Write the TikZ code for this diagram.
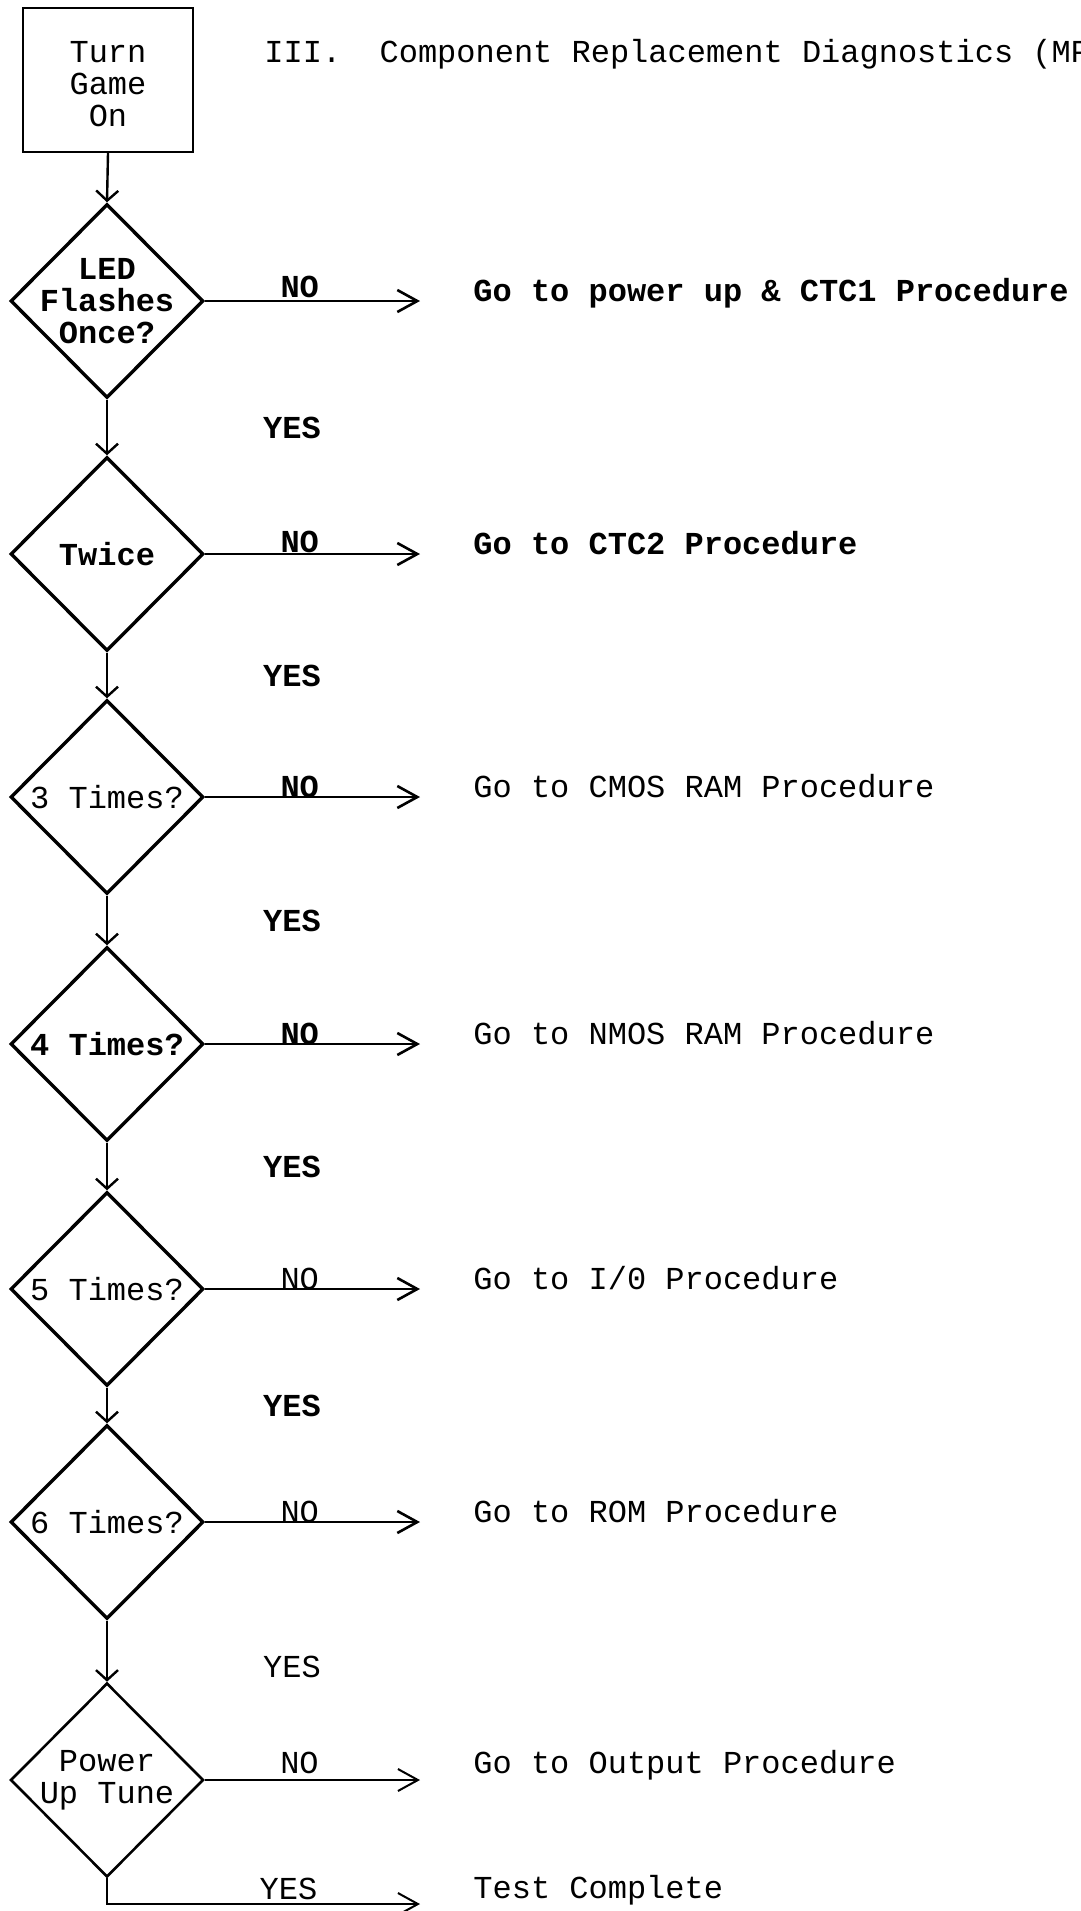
\documentclass[tikz,border=0pt]{standalone}
\usepackage{fontspec}
\usetikzlibrary{shapes.geometric, arrows.meta, positioning, calc}
\newfontfamily\typer{Liberation Mono}

\begin{document}
\begin{tikzpicture}[
  x=0.5pt, y=-0.5pt,
  every node/.style={font=\typer\fontsize{16}{16}\selectfont},
  heavy/.style={font=\typer\bfseries\fontsize{16}{16}\selectfont},
  startbox/.style={rectangle, draw, line width=1pt, minimum width=85pt, minimum height=72pt,
                   align=center, inner sep=0pt},
  test/.style={diamond, draw, line width=1.7pt, minimum width=96.5pt, minimum height=97pt,
               inner sep=-10pt, align=center},
  flow/.style={-{Straight Barb[length=5pt, width=11pt]}, line width=1.2pt},
  noflow/.style={-{Straight Barb[length=10pt, width=11pt]}, line width=1.3pt},
  answer/.style={anchor=base, inner sep=0pt, pos=.44},
  yes/.style={anchor=center, inner sep=0pt, xshift=92.5pt},
  target/.style={anchor=base west, inner sep=0pt},
]
  \useasboundingbox (0,0) rectangle (1081,1911);

  \node[startbox] (start) at (108,80) {\rule{0pt}{15pt}Turn\\Game\\On};
  \node[target] (title) at (264,62) {III.\ \ Component Replacement Diagnostics (MP};

  % flash count tests
  \node[test, heavy] (once) at (107,301) {LED\\Flashes\\Once?};
  \node[test, heavy] (twice) at (107,554) {Twice};
  \node[test] (three) at (107,797) {3 Times?};
  \node[test, heavy] (four) at (107,1044) {4 Times?};
  \node[test] (five) at (107,1289) {5 Times?};
  \node[test] (six) at (107,1522) {6 Times?};
  \node[test, line width=1.3pt] (tune) at (107,1780) {Power\\Up Tune};

  % procedures
  \node[target, heavy] (ctcone) at (473,301) {Go to power up \& CTC1 Procedure};
  \node[target, heavy] (ctctwo) at (473,554) {Go to CTC2 Procedure};
  \node[target] (cmos) at (473,797) {Go to CMOS RAM Procedure};
  \node[target] (nmos) at (473,1044) {Go to NMOS RAM Procedure};
  \node[target] (io) at (473,1289) {Go to I/0 Procedure};
  \node[target] (rom) at (473,1522) {Go to ROM Procedure};
  \node[target] (output) at (473,1773) {Go to Output Procedure};
  \node[target] (done) at (473,1898) {Test Complete};

  \coordinate (noone) at (420,301);
  \coordinate (notwo) at (420,554);
  \coordinate (nothree) at (420,797);
  \coordinate (nofour) at (420,1044);
  \coordinate (nofive) at (420,1289);
  \coordinate (nosix) at (420,1522);
  \coordinate (notune) at (420,1780);
  \coordinate (yestune) at (420,1904);

  \draw[flow] (start.south) -- (once.north);
  \draw[flow] (once.south) -- node[yes, heavy]{YES} (twice.north);
  \draw[flow] (twice.south) -- node[yes, heavy]{YES} (three.north);
  \draw[flow] (three.south) -- node[yes, heavy]{YES} (four.north);
  \draw[flow] (four.south) -- node[yes, heavy]{YES} (five.north);
  \draw[flow] (five.south) -- node[yes, heavy]{YES} (six.north);
  \draw[flow] (six.south) -- node[yes, pos=.75]{YES} (tune.north);

  \draw[noflow] (once.east) -- node[answer, heavy, yshift=2pt]{NO} (noone);
  \draw[noflow] (twice.east) -- node[answer, heavy, yshift=1pt]{NO} (notwo);
  \draw[noflow] (three.east) -- node[answer, heavy]{NO} (nothree);
  \draw[noflow] (four.east) -- node[answer, heavy]{NO} (nofour);
  \draw[noflow] (five.east) -- node[answer]{NO} (nofive);
  \draw[noflow] (six.east) -- node[answer]{NO} (nosix);
  \draw[noflow, line width=1pt] (tune.east) -- node[answer, yshift=3.5pt]{NO} (notune);
  \draw[noflow, line width=1pt] (tune.south) |- node[answer, pos=.79, yshift=2.5pt]{YES} (yestune);

\end{tikzpicture}
\end{document}
